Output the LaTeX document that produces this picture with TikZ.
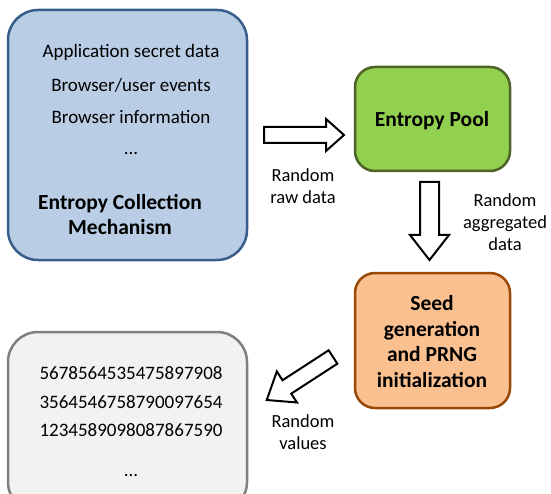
\documentclass[tikz,border=0pt]{standalone}
\usepackage{fontspec}
\setmainfont{Carlito}
\definecolor{bluefill}{HTML}{B9CDE5}
\definecolor{blueline}{HTML}{385D8A}
\definecolor{greenfill}{HTML}{92D050}
\definecolor{greenline}{HTML}{4F6228}
\definecolor{orangefill}{HTML}{FAC090}
\definecolor{orangeline}{HTML}{984807}
\definecolor{grayfill}{HTML}{F2F2F2}
\definecolor{grayline}{HTML}{7F7F7F}
\newcommand\blockarr[7]{%
  \begin{scope}[shift={(#1,#2)},rotate=#3]
    \draw[blockarrow] (0,-#5/2) -- (#4-#7,-#5/2) -- (#4-#7,-#6/2) -- (#4,0)
      -- (#4-#7,#6/2) -- (#4-#7,#5/2) -- (0,#5/2) -- cycle;
  \end{scope}}
\begin{document}
\begin{tikzpicture}[x=1pt,y=1pt,
  box/.style={draw,line width=2.5pt,rounded corners=#1},
  txt/.style={font=\fontsize{19}{22}\selectfont,inner sep=0pt},
  btxt/.style={font=\fontsize{21.5}{25}\selectfont\bfseries,inner sep=0pt,align=center},
  lbl/.style={font=\fontsize{18.5}{22}\selectfont,inner sep=0pt,align=center},
  blockarrow/.style={draw=black,fill=white,line width=2pt,line join=miter}]
\useasboundingbox (0,0) rectangle (551,-494);
\clip (0,0) rectangle (551,-494);
% boxes
\node[box=30pt,draw=blueline,fill=bluefill,minimum width=239pt,minimum height=250pt] (ecm) at (127.5,-135) {};
\node[box=20pt,draw=greenline,fill=greenfill,minimum width=155pt,minimum height=104pt] (pool) at (432.5,-119) {};
\node[box=20pt,draw=orangeline,fill=orangefill,minimum width=155pt,minimum height=135pt] (seed) at (432.5,-340.5) {};
\node[box=30pt,draw=grayline,fill=grayfill,minimum width=239pt,minimum height=180pt] (vals) at (127.5,-422) {};
% blue box texts
\node[txt] (t1) at (131,-52) {Application secret data};
\node[txt] (t2) at (131,-85) {Browser/user events};
\node[txt] (t3) at (131,-117) {Browser information};
\node[txt] (t4) at (131,-153) {...};
\node[btxt] (t5) at (120,-214.5) {Entropy Collection\\Mechanism};
% green
\node[btxt] (t6) at (432,-121) {Entropy Pool};
% orange
\node[btxt,font=\fontsize{21.5}{25.7}\selectfont\bfseries] (t7) at (432,-341.5) {Seed\\generation\\and PRNG\\initialization};
% gray texts
\node[txt] (n1) at (131,-373) {5678564535475897908};
\node[txt] (n2) at (131,-402) {3564546758790097654};
\node[txt] (n3) at (131,-430) {1234589098087867590};
\node[txt] (n4) at (131,-475) {...};
% arrows
\blockarr{264}{-135}{0}{80}{16}{32}{18}
\blockarr{429.5}{-182}{-90}{78}{19}{39}{25}
\blockarr{333}{-357}{213}{79}{16}{37}{24}
% labels
\node[lbl] (l1) at (303,-186) {Random\\raw data};
\node[lbl] (l2) at (505,-222) {Random\\aggregated\\data};
\node[lbl] (l3) at (303,-432) {Random\\values};
\end{tikzpicture}
\end{document}
